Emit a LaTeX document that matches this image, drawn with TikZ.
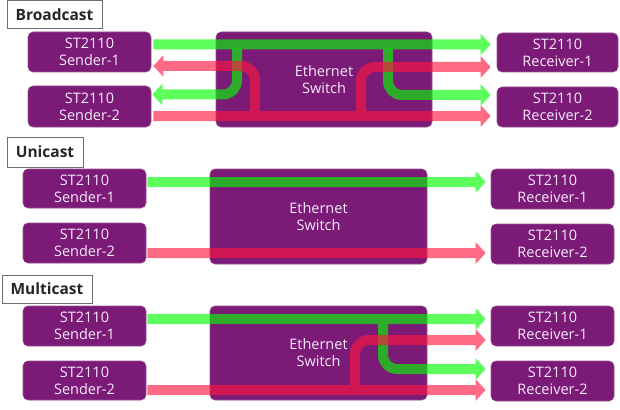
\documentclass[tikz,border=0pt]{standalone}
\usepackage{fontspec}
\setmainfont{Open Sans}
\usetikzlibrary{arrows.meta}
\definecolor{boxpurple}{RGB}{123,26,119}
\definecolor{boxedge}{RGB}{150,80,145}
\definecolor{boxtext}{RGB}{245,235,248}
\definecolor{flowgreen}{RGB}{0,255,0}
\definecolor{flowred}{RGB}{255,23,64}
\definecolor{labeledge}{RGB}{110,110,110}
\tikzset{
  dev/.style={rectangle, rounded corners=5pt, fill=boxpurple, draw=boxedge, line width=0.6pt,
    text=boxtext, align=center, inner sep=0pt,
    font=\fontsize{14.5}{17}\selectfont},
  sw/.style={dev},
  sectlabel/.style={rectangle, draw=labeledge, fill=white, line width=1pt, inner sep=0pt,
    font=\fontsize{15.5}{18}\selectfont\bfseries, text=black!85},
  flow/.style={line width=10pt, line cap=butt, rounded corners=14pt,
    -{Triangle[width=21pt,length=10pt]}},
  gflow/.style={flow, draw=flowgreen, color=flowgreen},
  rflow/.style={flow, draw=flowred, color=flowred},
  grp/.style={transparency group, opacity=0.64}
}
\begin{document}
\begin{tikzpicture}[x=1pt,y=-1pt]
\useasboundingbox (0,0) rectangle (620,409);

% ---------------- Broadcast ----------------
\node[sectlabel, minimum width=95pt, minimum height=28pt] (bl) at (54.5,15) {Broadcast};
\node[dev, minimum width=123pt, minimum height=40pt] (bs1) at (89.5,52) {ST2110\\Sender-1};
\node[dev, minimum width=123pt, minimum height=41pt] (bs2) at (89.5,106.5) {ST2110\\Sender-2};
\node[sw, minimum width=216pt, minimum height=95pt] (bsw) at (324,79.5) {Ethernet\\Switch};
\node[dev, minimum width=121pt, minimum height=39pt] (br1) at (557.5,52.5) {ST2110\\Receiver-1};
\node[dev, minimum width=121pt, minimum height=40pt] (br2) at (557.5,107) {ST2110\\Receiver-2};
\coordinate (bjg1) at (237,49);
\coordinate (bjg2) at (388,49);
\coordinate (bjr1) at (255,111);
\coordinate (bjr2) at (361,111);

\begin{scope}[grp]
\draw[gflow, shorten <=2pt, shorten >=6pt] (bs1.east |- 0,44.5) -- (br1.west |- 0,44.5);
\end{scope}
\begin{scope}[grp]
\draw[gflow, shorten >=1pt] (bjg1) -- (237,94.5) -- (bs2.east |- 0,94.5);
\end{scope}
\begin{scope}[grp]
\draw[gflow, shorten >=6pt] (bjg2) -- (388,95) -- (br2.west |- 0,95);
\end{scope}
\begin{scope}[grp]
\draw[rflow, shorten <=2pt, shorten >=6pt] (bs2.east |- 0,116) -- (br2.west |- 0,116);
\end{scope}
\begin{scope}[grp]
\draw[rflow, shorten >=2pt] (bjr1) -- (255,66) -- (bs1.east |- 0,66);
\end{scope}
\begin{scope}[grp]
\draw[rflow, shorten >=6pt] (bjr2) -- (361,67) -- (br1.west |- 0,67);
\end{scope}

% ---------------- Unicast ----------------
\node[sectlabel, minimum width=76pt, minimum height=30pt] (ul) at (45,152) {Unicast};
\node[dev, minimum width=123pt, minimum height=39pt] (us1) at (84.5,188.5) {ST2110\\Sender-1};
\node[dev, minimum width=123pt, minimum height=40pt] (us2) at (84.5,243) {ST2110\\Sender-2};
\node[sw, minimum width=217pt, minimum height=95pt] (usw) at (318.5,216.5) {Ethernet\\Switch};
\node[dev, minimum width=123pt, minimum height=40pt] (ur1) at (552.5,189) {ST2110\\Receiver-1};
\node[dev, minimum width=123pt, minimum height=40pt] (ur2) at (552.5,244) {ST2110\\Receiver-2};

\begin{scope}[grp]
\draw[gflow, shorten <=1pt, shorten >=5pt] (us1.east |- 0,182) -- (ur1.west |- 0,182);
\end{scope}
\begin{scope}[grp]
\draw[rflow, shorten <=1pt, shorten >=5pt] (us2.east |- 0,253) -- (ur2.west |- 0,253);
\end{scope}

% ---------------- Multicast ----------------
\node[sectlabel, minimum width=90pt, minimum height=28pt] (ml) at (47,289) {Multicast};
\node[dev, minimum width=123pt, minimum height=40pt] (ms1) at (84.5,326) {ST2110\\Sender-1};
\node[dev, minimum width=123pt, minimum height=39pt] (ms2) at (84.5,380.5) {ST2110\\Sender-2};
\node[sw, minimum width=217pt, minimum height=94pt] (msw) at (318.5,353) {Ethernet\\Switch};
\node[dev, minimum width=123pt, minimum height=40pt] (mr1) at (552.5,326) {ST2110\\Receiver-1};
\node[dev, minimum width=123pt, minimum height=40pt] (mr2) at (552.5,381) {ST2110\\Receiver-2};
\coordinate (mjg) at (383,324);
\coordinate (mjr) at (355,385);

\begin{scope}[grp]
\draw[gflow, shorten <=1pt, shorten >=5pt] (ms1.east |- 0,319) -- (mr1.west |- 0,319);
\end{scope}
\begin{scope}[grp]
\draw[gflow, shorten >=5pt] (mjg) -- (383,369) -- (mr2.west |- 0,369);
\end{scope}
\begin{scope}[grp]
\draw[rflow, shorten <=1pt, shorten >=5pt] (ms2.east |- 0,390) -- (mr2.west |- 0,390);
\end{scope}
\begin{scope}[grp]
\draw[rflow, shorten >=5pt] (mjr) -- (355,340) -- (mr1.west |- 0,340);
\end{scope}
\end{tikzpicture}
\end{document}
